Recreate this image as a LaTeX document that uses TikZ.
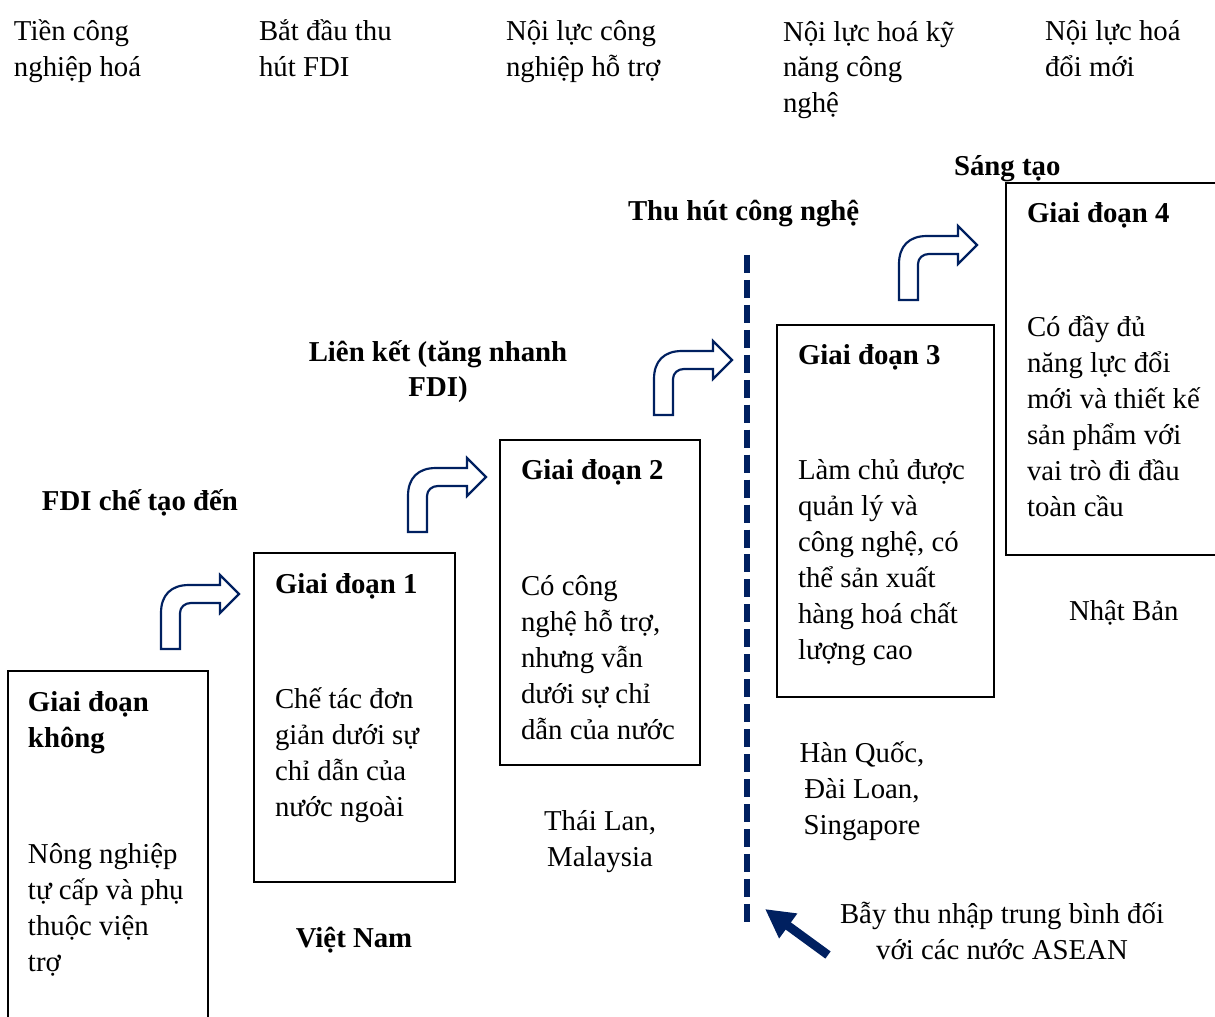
\documentclass[tikz,border=0pt]{standalone}
\usepackage{fontspec}
\setmainfont{Liberation Serif}
\usetikzlibrary{arrows.meta}
\definecolor{navy}{RGB}{0,32,96}

\tikzset{pics/bentarrow/.style={code={
  \draw[bent] (0,0) -- (0,-36) .. controls (0,-54) and (10,-64) .. (28,-64)
     -- (59,-64) -- (59,-74) -- (78,-55) -- (59,-36) -- (59,-46) -- (30,-46)
     .. controls (24,-46) and (19,-42) .. (19,-36) -- (19,0) -- cycle;
}}}

\begin{document}
\begin{tikzpicture}[x=0.4167pt,y=-0.4167pt]
\tikzset{ >=latex, inner sep=0pt, outer sep=0pt,
  txt/.style={anchor=base west, align=left, font=\fontsize{12}{15}\selectfont},
  ctxt/.style={anchor=base, align=center, font=\fontsize{12}{15}\selectfont},
  hd/.style={anchor=base west, align=left, font=\fontsize{12}{15}\selectfont\bfseries},
  chd/.style={anchor=base, align=center, font=\fontsize{12}{15}\selectfont\bfseries},
  box/.style={draw, line width=0.9pt},
  bent/.style={draw=navy, fill=white, line width=0.9pt, line join=miter},
}
\useasboundingbox (0,0) rectangle (1215,1017);

%\draw [lightgray, dashed](0,0) grid[step=50] (1215,1017);

% top row (base = last line)
\node [txt] (pre)   at (14,77)   {Tiền công\\nghiệp hoá};
\node [txt] (start) at (259,77)  {Bắt đầu thu\\hút FDI};
\node [txt] (supp)  at (506,77)  {Nội lực công\\nghiệp hỗ trợ};
\node [txt] (skill) at (783,113) {Nội lực hoá kỹ\\năng công\\nghệ};
\node [txt] (innov) at (1045,77) {Nội lực hoá\\đổi mới};

% stage boxes
\draw [box] (8,671)    rectangle (208,1040);
\draw [box] (254,553)  rectangle (455,882);
\draw [box] (500,440)  rectangle (700,765);
\draw [box] (777,325)  rectangle (994,697);
\draw [box] (1006,183) rectangle (1240,555);

\node [hd]  (G0)  at (28,747)   {Giai đoạn\\không};
\node [txt] (G0t) at (28,971)   {Nông nghiệp\\tự cấp và phụ\\thuộc viện\\trợ};
\node [hd]  (G1)  at (275,593)  {Giai đoạn 1};
\node [txt] (G1t) at (275,816)  {Chế tác đơn\\giản dưới sự\\chỉ dẫn của\\nước ngoài};
\node [hd]  (G2)  at (521,480)  {Giai đoạn 2};
\node [txt] (G2t) at (521,739)  {Có công\\nghệ hỗ trợ,\\nhưng vẫn\\dưới sự chỉ\\dẫn của nước};
\node [hd]  (G3)  at (798,365)  {Giai đoạn 3};
\node [txt] (G3t) at (798,659)  {Làm chủ được\\quản lý và\\công nghệ, có\\thể sản xuất\\hàng hoá chất\\lượng cao};
\node [hd]  (G4)  at (1027,223) {Giai đoạn 4};
\node [txt] (G4t) at (1027,516) {Có đầy đủ\\năng lực đổi\\mới và thiết kế\\sản phẩm với\\vai trò đi đầu\\toàn cầu};

% step labels
\node [hd]  (fdi)  at (42,510)   {FDI chế tạo đến};
\node [chd] (link) at (438,397)  {Liên kết (tăng nhanh\\FDI)};
\node [hd]  (tech) at (628,221)  {Thu hút công nghệ};
\node [hd]  (crea) at (954,176)  {Sáng tạo};

% countries
\node [chd]  (vn) at (354,947)  {Việt Nam};
\node [ctxt] (th) at (600,866)  {Thái Lan,\\Malaysia};
\node [ctxt] (kr) at (862,834)  {Hàn Quốc,\\Đài Loan,\\Singapore};
\node [txt]  (jp) at (1069,620) {Nhật Bản};

% bent arrows
\pic at (161,649) {bentarrow};
\pic at (408,532) {bentarrow};
\pic at (654,415) {bentarrow};
\pic at (899,300) {bentarrow};

% middle income trap
\coordinate (dtop) at (747,255);
\coordinate (dbot) at (747,928);
\draw [navy, line width=2.5pt, dash pattern=on 7.5pt off 2.9pt] (dtop) -- (dbot);

\node [ctxt] (trap) at (1002,959) {Bẫy thu nhập trung bình đối\\với các nước ASEAN};
\coordinate (trapA) at (828,955);
\coordinate (trapB) at (765,909);
\draw [navy, line width=3.7pt, -{Triangle[length=12pt,width=12pt]}] (trapA) -- (trapB);

\end{tikzpicture}
\end{document}
